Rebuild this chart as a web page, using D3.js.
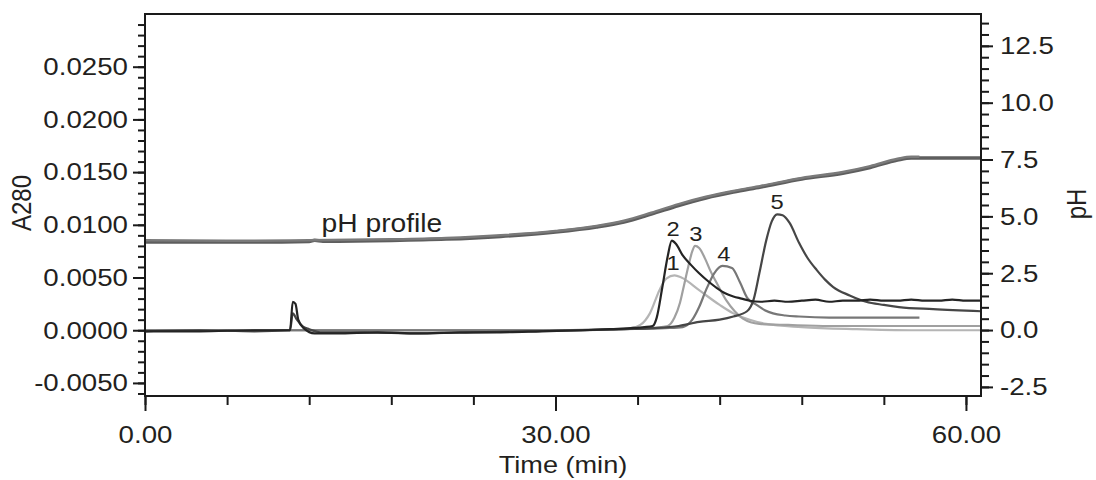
<!DOCTYPE html>
<html>
<head>
<meta charset="utf-8">
<script src="https://cdn.jsdelivr.net/npm/d3@7"></script>
<style>
  body { margin: 0; background: #fff; }
  svg text { font-family: "Liberation Sans", Arial, Helvetica, sans-serif; fill: #231f20; }
</style>
</head>
<body>
<svg id="chart" width="1096" height="480"></svg>
<script>
// ---- data ----
var xMajorTicks = [0, 30, 60];
var a280MajorTicks = [-0.005, 0, 0.005, 0.010, 0.015, 0.020, 0.025];
var phMajorTicks = [-2.5, 0, 2.5, 5.0, 7.5, 10.0, 12.5];

// pH profile, two overlapping runs
var phTimeA = [0, 8, 12, 12.4, 13, 18, 22, 26, 30, 33, 35, 37, 39, 41, 43, 45, 48, 51, 53, 55, 56, 61.1];
var phValA  = [3.87, 3.87, 3.90, 3.95, 3.91, 3.94, 4.00, 4.12, 4.31, 4.53, 4.75, 5.10, 5.48, 5.81, 6.07, 6.29, 6.64, 6.90, 7.15, 7.48, 7.57, 7.57];
var phTimeB = [0, 8, 12, 18, 22, 26, 30, 33, 35, 37, 39, 41, 43, 45, 48, 51, 53, 55, 56, 56.6];
var phValB  = [3.95, 3.93, 3.95, 3.99, 4.05, 4.17, 4.36, 4.58, 4.81, 5.16, 5.54, 5.86, 6.12, 6.34, 6.69, 6.95, 7.21, 7.53, 7.62, 7.62];

// A280 traces, samples 1..5
var t1 = [0, 5, 20, 30, 34, 35.5, 36.2, 36.9, 37.6, 38.1, 38.7, 39.2, 40.5, 42, 43, 44.2, 45.4, 48, 52, 56, 61.1];
var a1 = [0.0000, 0.0000, 0.0000, 0.0000, 0.0001, 0.0002, 0.0005, 0.0016, 0.0038, 0.0049, 0.0052, 0.0050, 0.0038, 0.0024, 0.0016, 0.0010, 0.0006, 0.0003, 0.0001, 0.0000, 0.0000];

var t2 = [0, 4, 8, 10.6, 10.8, 11.0, 11.2, 11.6, 12.4, 14, 17, 20, 23, 26, 29, 32, 34, 35.5, 36.5, 37.1, 37.4, 37.8, 38.2, 38.5, 38.8, 39.3, 39.9, 40.5, 41.2, 41.8, 42.4, 43.0, 43.6, 44.2, 45, 46, 47, 48, 49, 50, 51, 52, 53, 54, 55, 56, 57, 58, 59, 60, 61.1];
var a2 = [-0.0001, -0.0001, 0.0000, 0.0000, 0.0027, 0.0025, 0.0010, 0.0002, -0.0003, -0.0003, -0.0002, -0.0003, -0.0002, -0.0002, -0.0001, 0.0000, 0.0001, 0.0002, 0.0003, 0.0004, 0.0012, 0.0040, 0.0070, 0.0085, 0.0082, 0.0071, 0.0062, 0.0054, 0.0046, 0.0040, 0.0035, 0.0032, 0.0030, 0.0028, 0.0027, 0.0028, 0.0027, 0.0028, 0.0029, 0.0027, 0.0028, 0.0028, 0.0029, 0.0028, 0.0028, 0.0029, 0.0028, 0.0028, 0.0029, 0.0028, 0.0028];

var t3 = [0, 10, 20, 30, 35, 37, 38.2, 38.7, 39.1, 39.4, 39.7, 40.0, 40.2, 40.5, 41.0, 41.3, 41.9, 42.5, 43.1, 43.7, 44.9, 47, 50, 55, 61.1];
var a3 = [0.0000, 0.0000, 0.0000, 0.0000, 0.0001, 0.0002, 0.0004, 0.0012, 0.0026, 0.0043, 0.0060, 0.0075, 0.0080, 0.0078, 0.0066, 0.0057, 0.0042, 0.0028, 0.0018, 0.0011, 0.0006, 0.0005, 0.0004, 0.0004, 0.0004];

var t4 = [0, 10, 20, 30, 35, 38, 39.3, 40.0, 40.5, 41.0, 41.6, 42.2, 42.9, 43.5, 44.0, 44.7, 45.3, 45.9, 46.8, 47.8, 50, 53, 56.6];
var a4 = [0.0000, 0.0000, 0.0000, 0.0000, 0.0001, 0.0002, 0.0003, 0.0010, 0.0022, 0.0038, 0.0054, 0.0061, 0.0059, 0.0045, 0.0031, 0.0024, 0.0019, 0.0016, 0.0014, 0.0013, 0.0012, 0.0012, 0.0012];

var t5 = [0, 4, 8, 10.6, 10.8, 11.1, 11.5, 12.0, 13, 16, 20, 24, 28, 32, 35, 37, 39, 40.5, 42, 43, 44, 44.5, 44.9, 45.4, 45.8, 46.2, 46.6, 47.1, 47.8, 48.4, 49.1, 49.7, 50.3, 51.5, 52.7, 54, 55.1, 57.6, 61.1];
var a5 = [-0.0001, 0.0000, -0.0001, 0.0000, 0.0016, 0.0010, 0.0004, 0.0001, -0.0002, -0.0002, -0.0003, -0.0002, -0.0001, 0.0000, 0.0001, 0.0002, 0.0004, 0.0008, 0.0010, 0.0013, 0.0018, 0.0030, 0.0054, 0.0085, 0.0103, 0.0110, 0.0109, 0.0102, 0.0083, 0.0069, 0.0057, 0.0048, 0.0041, 0.0033, 0.0027, 0.0024, 0.0022, 0.0020, 0.0018];

var peakNames = ["1", "2", "3", "4", "5"];
var peakTimes = [38.6, 38.6, 40.25, 42.3, 46.2];
var peakHeights = [0.0052, 0.0085, 0.0080, 0.0061, 0.0110];

// ---- layout ----
var svg = d3.select("#chart");
var plotLeft = 145, plotRight = 981, plotTop = 14, plotBottom = 396;
var stretch = 1.13;

var x = d3.scaleLinear().domain([0, 61.1]).range([plotLeft, plotRight]);
var yA = d3.scaleLinear().domain([-0.00624, 0.0300]).range([plotBottom, plotTop]);
var yP = d3.scaleLinear().domain([-2.9, 13.9]).range([plotBottom, plotTop]);

function fmt(f) { return function(d) { return f(d).replace("\u2212", "-"); }; }

// widen text the way the figure is widened
function widen(sel)
{
	sel.each(function() {
		var t = d3.select(this);
		var tx = +t.attr("x") || 0, ty = +t.attr("y") || 0;
		t.attr("x", 0).attr("y", 0).attr("transform", "translate(" + tx + "," + ty + ") scale(" + stretch + ",1)");
	});
}

svg.append("clipPath").attr("id", "plot").append("rect")
	.attr("x", plotLeft).attr("y", plotTop).attr("width", plotRight - plotLeft).attr("height", plotBottom - plotTop);

var g = svg.append("g").attr("clip-path", "url(#plot)");

function draw_trace(ts, vs, yScale, color, width)
{
	var pts = ts.map(function(t, i) { return [t, vs[i]]; });
	g.append("path")
		.datum(pts)
		.attr("fill", "none")
		.attr("stroke", color)
		.attr("stroke-width", width)
		.attr("stroke-linejoin", "round")
		.attr("d", d3.line()
			.curve(d3.curveMonotoneX)
			.x(function(d) { return x(d[0]); })
			.y(function(d) { return yScale(d[1]); }));
}

// pH runs
draw_trace(phTimeA, phValA, yP, "#5e5e5e", 3.5);
draw_trace(phTimeB, phValB, yP, "#7a7a7a", 2.5);

// A280 traces
draw_trace(t1, a1, yA, "#b5b5b5", 2.2);
draw_trace(t3, a3, yA, "#a0a0a0", 2.2);
draw_trace(t4, a4, yA, "#777777", 2.2);
draw_trace(t5, a5, yA, "#464646", 2.2);
draw_trace(t2, a2, yA, "#242424", 2.2);

// frame
svg.append("rect")
	.attr("x", plotLeft).attr("y", plotTop).attr("width", plotRight - plotLeft).attr("height", plotBottom - plotTop)
	.attr("fill", "none").attr("stroke", "#1a1a1a").attr("stroke-width", 2);

function style_axis(ax)
{
	ax.select(".domain").remove();
	ax.selectAll("line").attr("stroke", "#1a1a1a").attr("stroke-width", 2);
	ax.selectAll("text").attr("font-size", "24.5px").attr("fill", "#231f20");
}

// left axis
var gl = svg.append("g").attr("transform", "translate(" + plotLeft + ",0)");
gl.append("g").call(d3.axisLeft(yA).tickValues(d3.range(-0.006, 0.0295, 0.001)).tickSize(7).tickFormat(""))
	.call(style_axis);
gl.append("g").call(d3.axisLeft(yA).tickValues(a280MajorTicks).tickSize(12).tickPadding(5).tickFormat(fmt(d3.format(".4f"))))
	.call(style_axis);
widen(gl.selectAll("text"));

// right axis
var gr = svg.append("g").attr("transform", "translate(" + plotRight + ",0)");
gr.append("g").call(d3.axisRight(yP).tickValues(d3.range(-2.5, 13.6, 0.5)).tickSize(8).tickFormat(""))
	.call(style_axis);
gr.append("g").call(d3.axisRight(yP).tickValues(phMajorTicks).tickSize(12).tickPadding(7).tickFormat(fmt(d3.format(".1f"))))
	.call(style_axis);
widen(gr.selectAll("text"));

// bottom axis
var gb = svg.append("g").attr("transform", "translate(0," + plotBottom + ")");
gb.append("g").call(d3.axisBottom(x).tickValues(d3.range(0, 61, 6)).tickSize(9).tickFormat(""))
	.call(style_axis);
gb.append("g").call(d3.axisBottom(x).tickValues(xMajorTicks).tickSize(15).tickPadding(15).tickFormat(d3.format(".2f")))
	.call(style_axis);
widen(gb.selectAll("text"));

// axis titles
svg.append("text")
	.attr("transform", "translate(31,203) rotate(-90) scale(1," + stretch + ")")
	.attr("text-anchor", "middle").attr("font-size", "24px")
	.text("A280");
svg.append("text")
	.attr("transform", "translate(1086,204) rotate(-90) scale(1," + stretch + ")")
	.attr("text-anchor", "middle").attr("font-size", "24px")
	.text("pH");
svg.append("text")
	.attr("x", (plotLeft + plotRight) / 2).attr("y", 473)
	.attr("text-anchor", "middle").attr("font-size", "24px")
	.text("Time (min)")
	.call(widen);

// annotations
svg.append("text")
	.attr("x", x(12.9)).attr("y", 232)
	.attr("font-size", "25px")
	.text("pH profile")
	.call(widen);

svg.selectAll(".peaklabel")
	.data(peakNames)
	.enter()
	.append("text")
	.attr("class", "peaklabel")
	.attr("x", function(d, i) { return x(peakTimes[i]); })
	.attr("y", function(d, i) { return yA(peakHeights[i]) - 5; })
	.attr("text-anchor", "middle")
	.attr("font-size", "21px")
	.text(function(d) { return d; })
	.call(widen);
</script>
</body>
</html>
